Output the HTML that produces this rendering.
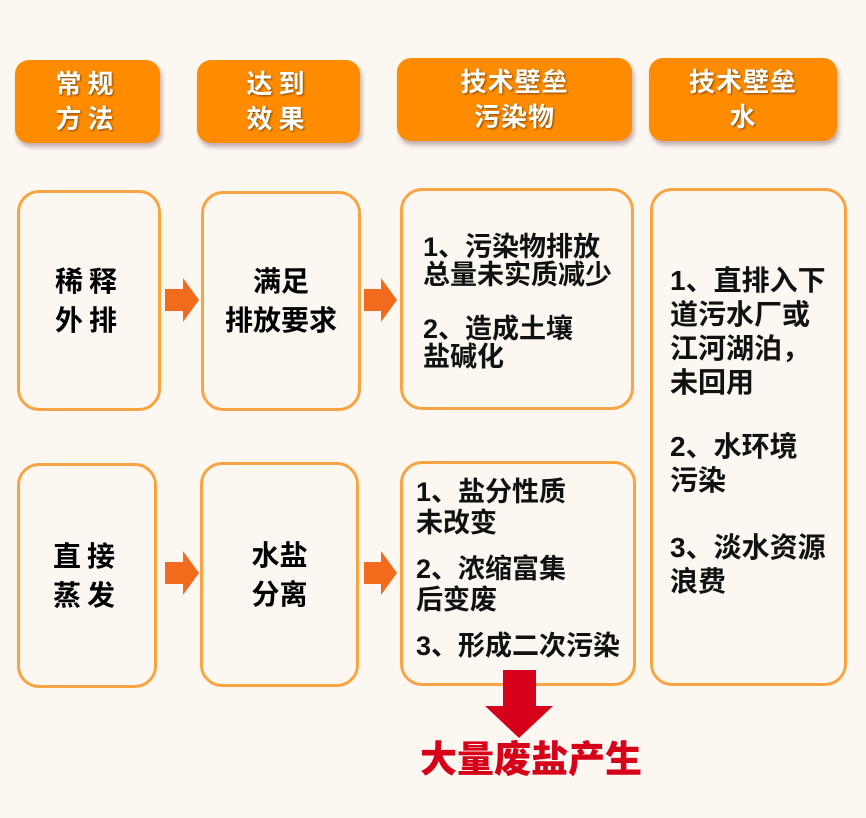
<!DOCTYPE html>
<html><head><meta charset="utf-8"><style>
body{margin:0;width:866px;height:818px;background:#fcf8f1;position:relative;overflow:hidden;font-family:"Liberation Sans","Noto Sans CJK SC",sans-serif;font-weight:bold}
.h{position:absolute;background:#ff8c00;border-radius:14px;box-shadow:2px 4px 5px rgba(120,80,90,.45);color:#fff;font-size:26px;line-height:35px;text-align:center;letter-spacing:6px;text-shadow:1px 1px 2px rgba(0,0,0,.5);display:flex;align-items:center;justify-content:center}
.b{position:absolute;border:3px solid #f9a443;border-radius:22px;box-sizing:border-box}
.t{position:absolute;color:#111;white-space:nowrap}
.c{display:flex;align-items:center;justify-content:center;text-align:center;font-size:28px;line-height:39px}
</style></head><body>
<div class="h" style="left:15px;top:60px;width:145px;height:83px">常规<br>方法</div>
<div class="h" style="left:197px;top:60px;width:163px;height:83px">达到<br>效果</div>
<div class="h" style="left:397px;top:58px;width:235px;height:83px;letter-spacing:1px">技术壁垒<br>污染物</div>
<div class="h" style="left:649px;top:58px;width:188px;height:83px;letter-spacing:1px">技术壁垒<br>水</div>

<div class="b c" style="left:17px;top:190px;width:144px;height:221px;letter-spacing:6px">稀释<br>外排</div>
<div class="b c" style="left:201px;top:191px;width:160px;height:220px">满足<br>排放要求</div>
<div class="b" style="left:400px;top:188px;width:234px;height:222px"></div>
<div class="b" style="left:650px;top:188px;width:197px;height:498px"></div>
<div class="b c" style="left:17px;top:463px;width:140px;height:225px;letter-spacing:6px">直接<br>蒸发</div>
<div class="b c" style="left:200px;top:462px;width:159px;height:225px">水盐<br>分离</div>
<div class="b" style="left:400px;top:461px;width:236px;height:225px"></div>

<div class="t" style="left:423px;top:233px;font-size:27px;line-height:28px">1、污染物排放<br>总量未实质减少</div>
<div class="t" style="left:423px;top:315px;font-size:27px;line-height:28px">2、造成土壤<br>盐碱化</div>
<div class="t" style="left:416px;top:477px;font-size:27px;line-height:31px">1、盐分性质<br>未改变</div>
<div class="t" style="left:416px;top:554px;font-size:27px;line-height:31px">2、浓缩富集<br>后变废</div>
<div class="t" style="left:416px;top:631px;font-size:27px;line-height:31px">3、形成二次污染</div>
<div class="t" style="left:670px;top:264px;font-size:28px;line-height:34px">1、直排入下<br>道污水厂或<br>江河湖泊，<br>未回用</div>
<div class="t" style="left:670px;top:430px;font-size:28px;line-height:34px">2、水环境<br>污染</div>
<div class="t" style="left:670px;top:531px;font-size:28px;line-height:34px">3、淡水资源<br>浪费</div>

<svg style="position:absolute;left:0;top:0" width="866" height="818">
<g fill="#f26a1b">
<polygon points="165,289 183,289 183,278 199,300 183,322 183,311 165,311"/>
<polygon points="364,289 381,289 381,278 397,300 381,322 381,311 364,311"/>
<polygon points="165,562 183,562 183,551 199,573 183,595 183,584 165,584"/>
<polygon points="364,562 381,562 381,551 397,573 381,595 381,584 364,584"/>
</g>
<polygon fill="#d7001b" points="503,670 536,670 536,706 553,706 519,738 485,706 503,706"/>
</svg>
<div class="t" style="left:420px;top:737px;font-size:37px;line-height:46px;color:#d7001b;font-weight:900">大量废盐产生</div>
</body></html>
